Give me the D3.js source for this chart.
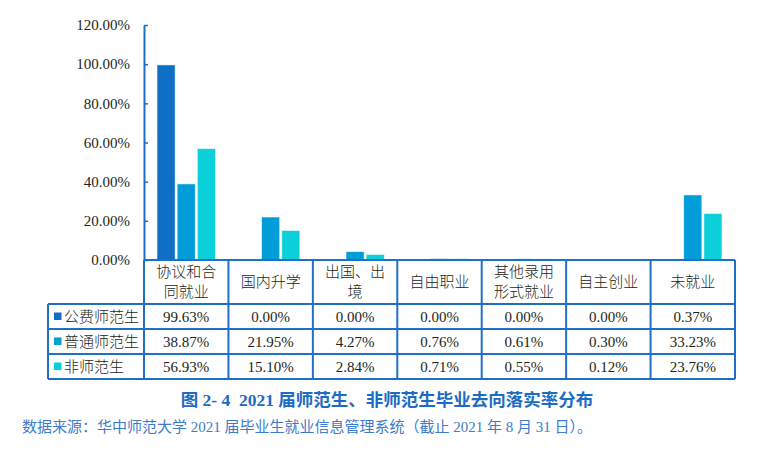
<!DOCTYPE html>
<html><head><meta charset="utf-8">
<script src="https://cdn.jsdelivr.net/npm/d3@7"></script>
<style>
html,body{margin:0;padding:0;background:#fff;}
svg{display:block;}
text{font-family:"Liberation Serif","Noto Sans CJK SC",serif;white-space:pre;}
</style></head>
<body>
<svg id="chart" width="770" height="464"></svg>
<script>
const categories = [["协议和合","同就业"],["国内升学"],["出国、出","境"],["自由职业"],["其他录用","形式就业"],["自主创业"],["未就业"]];
const seriesNames = ["公费师范生","普通师范生","非师范生"];
const gongfei = [99.63, 0.00, 0.00, 0.00, 0.00, 0.00, 0.37];
const putong  = [38.87, 21.95, 4.27, 0.76, 0.61, 0.30, 33.23];
const feishi  = [56.93, 15.10, 2.84, 0.71, 0.55, 0.12, 23.76];
const yTicks = [0, 20, 40, 60, 80, 100, 120];
const title = "图 2- 4  2021 届师范生、非师范生毕业去向落实率分布";
const source = "数据来源：华中师范大学 2021 届毕业生就业信息管理系统（截止 2021 年 8 月 31 日）。";

const colors = ["#0F6FC6","#009DD9","#0BD0D9"];
const lineColor = "#1F6FC6";
const textColor = "#231f20";
const series = [gongfei, putong, feishi];

const svg = d3.select("#chart");
const plotLeft = 144, plotRight = 735, plotTop = 25, base = 260;
const x = d3.scaleBand().domain(d3.range(categories.length)).range([plotLeft, plotRight]).padding(0);
const xs = d3.scaleBand().domain(d3.range(series.length)).range([13, x.bandwidth()-13]).paddingInner(0.1).paddingOuter(0);
const y = d3.scaleLinear().domain([0, 120]).range([base, plotTop]);

// bars
series.forEach((vals, si) => {
  svg.append("g").selectAll("rect").data(vals).join("rect")
    .attr("x", (d,i) => x(i) + xs(si))
    .attr("y", d => y(d))
    .attr("width", xs.bandwidth())
    .attr("height", d => base - y(d))
    .attr("fill", colors[si])
    .attr("stroke", "rgba(255,255,255,0.7)")
    .attr("stroke-width", 0.8);
});

// y axis
const yAxis = d3.axisLeft(y).tickValues(yTicks).tickFormat(d => d.toFixed(2) + "%")
  .tickSize(-4).tickSizeOuter(0).tickPadding(14);
const ga = svg.append("g").attr("transform", `translate(${plotLeft},0)`).call(yAxis);
ga.select(".domain").attr("stroke", lineColor).attr("stroke-width", 2);
ga.selectAll(".tick line").attr("stroke", lineColor).attr("stroke-width", 1.5);
ga.selectAll(".tick text").attr("font-size", 15).attr("fill", textColor)
  .attr("font-family", "Liberation Serif");

// table
const headerBottom = 304, rowH = 25, legendLeft = 48;
const rowsBottom = headerBottom + rowH * series.length;
const tbl = svg.append("g").attr("stroke", lineColor).attr("stroke-width", 2);
tbl.append("line").attr("x1", plotLeft).attr("x2", plotRight).attr("y1", base).attr("y2", base);
d3.range(series.length + 1).forEach(r => {
  const yy = headerBottom + r * rowH;
  tbl.append("line").attr("x1", legendLeft).attr("x2", plotRight).attr("y1", yy).attr("y2", yy);
});
d3.range(categories.length + 1).forEach(c => {
  const xx = c < categories.length ? x(c) : plotRight;
  tbl.append("line").attr("x1", xx).attr("x2", xx).attr("y1", base).attr("y2", rowsBottom);
});
tbl.append("line").attr("x1", legendLeft).attr("x2", legendLeft).attr("y1", headerBottom).attr("y2", rowsBottom);

// header labels
categories.forEach((lines, i) => {
  const cx = x(i) + x.bandwidth()/2;
  const cy = (base + headerBottom)/2;
  lines.forEach((ln, k) => {
    svg.append("text").attr("x", cx)
      .attr("y", cy + (k - (lines.length-1)/2) * 20)
      .attr("dy", "0.36em").attr("text-anchor", "middle")
      .attr("font-size", 15).attr("fill", textColor)
      .attr("font-family", "Noto Sans CJK SC").attr("font-weight", 300)
      .text(ln);
  });
});

// rows
series.forEach((vals, si) => {
  const cy = headerBottom + si * rowH + rowH/2;
  svg.append("rect").attr("x", 54).attr("y", cy - 4).attr("width", 7.5).attr("height", 7.5).attr("fill", colors[si]);
  svg.append("text").attr("x", 64).attr("y", cy).attr("dy", "0.36em")
    .attr("font-size", 15).attr("fill", textColor)
    .attr("font-family", "Noto Sans CJK SC").attr("font-weight", 300)
    .text(seriesNames[si]);
  vals.forEach((v, i) => {
    svg.append("text").attr("x", x(i) + x.bandwidth()/2).attr("y", cy).attr("dy", "0.36em")
      .attr("text-anchor", "middle").attr("font-size", 15).attr("fill", textColor)
      .attr("font-family", "Liberation Serif")
      .text(v.toFixed(2) + "%");
  });
});

// title & source
svg.append("text").attr("x", 387).attr("y", 400).attr("dy", "0.36em")
  .attr("text-anchor", "middle").attr("font-size", 17.5).attr("font-weight", "bold")
  .attr("fill", "#1C6BC4").text(title);
svg.append("text").attr("x", 22).attr("y", 427).attr("dy", "0.36em")
  .attr("font-size", 15).attr("fill", "#3D7BCB").text(source);
</script>
</body></html>
